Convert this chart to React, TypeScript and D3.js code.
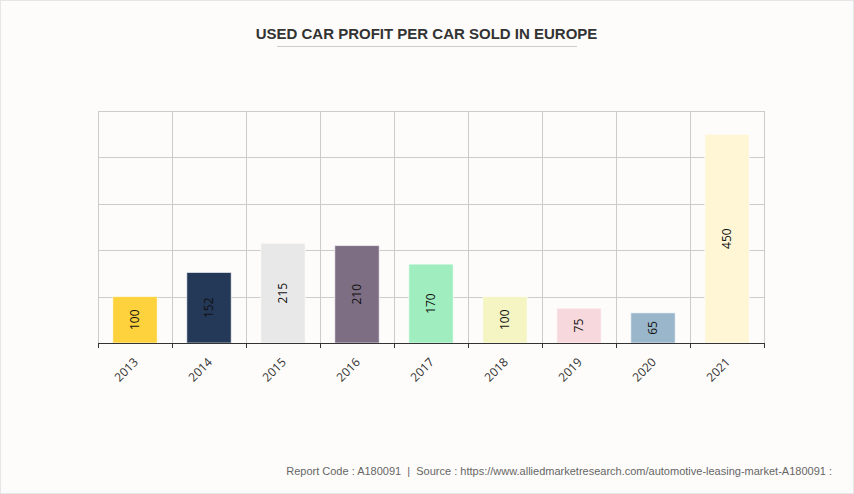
import React, { useEffect, useRef } from "react";
import * as d3 from "d3";

const years = ["2013", "2014", "2015", "2016", "2017", "2018", "2019", "2020", "2021"];
const profit = [100, 152, 215, 210, 170, 100, 75, 65, 450];
const barColors = ["#fdd23c", "#243858", "#e8e8e8", "#7d6e84", "#a0eebf", "#f5f5c4", "#f7d8dc", "#9ab6cb", "#fff6d6"];
const yTicks = [0, 100, 200, 300, 400, 500];

const W = 854;
const H = 494;

const ProfitChart = () => {
  const ref = useRef<SVGSVGElement>(null);

  useEffect(() => {
    if (!ref.current) return;
    const svg = d3.select(ref.current);
    svg.selectAll("*").remove();

    const margin = { top: 111, right: 90, bottom: 151, left: 98 };
    const innerW = W - margin.left - margin.right;
    const innerH = H - margin.top - margin.bottom;

    // background + frame
    svg.append("rect")
      .attr("x", 0.5).attr("y", 0.5)
      .attr("width", W - 1).attr("height", H - 1)
      .attr("fill", "#fdfcfa")
      .attr("stroke", "#e6e6e6");

    // title
    svg.append("text")
      .attr("x", W / 2 - 0.5).attr("y", 39)
      .attr("text-anchor", "middle")
      .attr("font-family", "'Liberation Sans', Arial, sans-serif")
      .attr("font-weight", "bold")
      .attr("font-size", 15)
      .attr("fill", "#333")
      .text("USED CAR PROFIT PER CAR SOLD IN EUROPE");
    svg.append("line")
      .attr("x1", 277).attr("x2", 577)
      .attr("y1", 46.5).attr("y2", 46.5)
      .attr("stroke", "#ccc");

    const x = d3.scaleBand().domain(years).range([0, innerW])
      .paddingInner(0.4).paddingOuter(0.2);
    const y = d3.scaleLinear().domain([0, 500]).range([innerH, 0]);

    const g = svg.append("g").attr("transform", `translate(${margin.left},${margin.top})`);

    // grid
    g.selectAll(".hgrid").data(yTicks).enter().append("line")
      .attr("x1", 0).attr("x2", innerW)
      .attr("y1", (d) => Math.round(y(d)) + 0.5).attr("y2", (d) => Math.round(y(d)) + 0.5)
      .attr("stroke", "#ccc");
    const bounds = d3.range(years.length + 1).map((i) => i * x.step());
    g.selectAll(".vgrid").data(bounds).enter().append("line")
      .attr("x1", (d) => Math.round(d) + 0.5).attr("x2", (d) => Math.round(d) + 0.5)
      .attr("y1", 0).attr("y2", innerH)
      .attr("stroke", "#ccc");

    // bars
    g.selectAll(".bar").data(profit).enter().append("rect")
      .attr("x", (_, i) => x(years[i]) as number)
      .attr("y", (d) => y(d))
      .attr("width", x.bandwidth())
      .attr("height", (d) => innerH - y(d))
      .attr("fill", (_, i) => barColors[i])
      .attr("stroke", "rgba(255,255,255,0.6)")
      .attr("stroke-width", 1);

    // value labels
    g.selectAll(".val").data(profit).enter().append("text")
      .attr("transform", (d, i) => {
        const cx = (x(years[i]) as number) + x.bandwidth() / 2;
        const cy = (y(d) + innerH) / 2;
        return `translate(${cx},${cy}) rotate(-90)`;
      })
      .attr("text-anchor", "middle")
      .attr("dy", "0.35em")
      .attr("font-family", "'Open Sans', 'DejaVu Sans', sans-serif")
      .attr("font-size", 12)
      .attr("fill", "#111")
      .text((d) => d);

    // x axis
    const axis = g.append("g").attr("transform", `translate(0,${innerH})`);
    axis.append("line")
      .attr("x1", 0).attr("x2", innerW)
      .attr("y1", 0.5).attr("y2", 0.5)
      .attr("stroke", "#333");
    axis.selectAll(".tick").data(bounds).enter().append("line")
      .attr("x1", (d) => Math.round(d) + 0.5).attr("x2", (d) => Math.round(d) + 0.5)
      .attr("y1", 0).attr("y2", 5)
      .attr("stroke", "#333");
    axis.selectAll(".lbl").data(years).enter().append("text")
      .attr("transform", (d) => `translate(${(x(d) as number) + x.bandwidth() / 2 + 1},${17}) rotate(-45)`)
      .attr("text-anchor", "end")
      .attr("dy", "0.35em")
      .attr("font-family", "'Open Sans', 'DejaVu Sans', sans-serif")
      .attr("font-size", 12)
      .attr("fill", "#333")
      .text((d) => d);

    // footer
    svg.append("text")
      .attr("x", 832).attr("y", 475)
      .attr("text-anchor", "end")
      .attr("font-family", "'Liberation Sans', Arial, sans-serif")
      .attr("font-size", 11)
      .attr("fill", "#666")
      .attr("xml:space", "preserve")
      .text("Report Code : A180091  |  Source : https://www.alliedmarketresearch.com/automotive-leasing-market-A180091 :");
  }, []);

  return <svg ref={ref} width={W} height={H} style={{ position: "absolute", left: 0, top: 0 }} />;
};

function App() {
  return (
    <div>
      <ProfitChart />
    </div>
  );
}

export default App;
